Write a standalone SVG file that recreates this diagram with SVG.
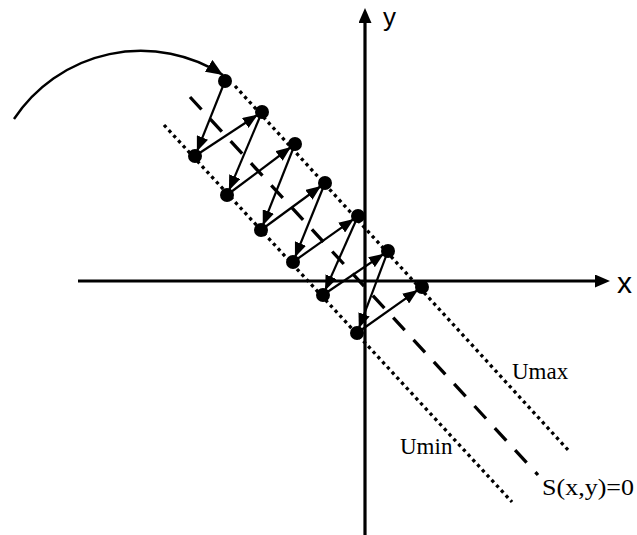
<svg xmlns="http://www.w3.org/2000/svg" width="637" height="535" viewBox="0 0 637 535">
  <style>
    .axis { stroke: #000; stroke-width: 3.2; fill: none; }
    .bound { stroke: #000; stroke-width: 3.3; stroke-dasharray: 3.3 3.7; fill: none; }
    .surf { stroke: #000; stroke-width: 3.3; stroke-dasharray: 17 13; fill: none; }
    .arr { stroke: #000; stroke-width: 2.2; fill: none; marker-end: url(#head); }
    .arc { stroke: #000; stroke-width: 2.4; fill: none; marker-end: url(#bighead); }
    .dot { fill: #000; }
    .sans { font-family: "Liberation Sans", Arial, sans-serif; fill: #000; }
    .serif { font-family: "Liberation Serif", "Times New Roman", serif; font-size: 23px; fill: #000; }
  </style>
  <defs>
    <marker id="head" markerUnits="userSpaceOnUse" markerWidth="15" markerHeight="12" refX="15" refY="6" orient="auto">
      <path d="M0,0 L15,6 L0,12 Z" fill="#000"/>
    </marker>
    <marker id="bighead" markerUnits="userSpaceOnUse" markerWidth="17" markerHeight="14" refX="17" refY="7" orient="auto">
      <path d="M0,0 L17,7 L0,14 Z" fill="#000"/>
    </marker>
    <marker id="axhead" markerUnits="userSpaceOnUse" markerWidth="15" markerHeight="13" refX="1" refY="6.5" orient="auto">
      <path d="M0,0 L15,6.5 L0,13 Z" fill="#000"/>
    </marker>
  </defs>

  <g id="axes">
    <line class="axis" x1="78" y1="281" x2="596" y2="281" marker-end="url(#axhead)"/>
    <line class="axis" x1="365" y1="535" x2="365" y2="22" marker-end="url(#axhead)"/>
  </g>

  <g id="guides">
    <line class="bound" x1="235" y1="86" x2="569" y2="451"/>
    <line class="bound" x1="164" y1="125" x2="512" y2="502"/>
    <line class="surf" x1="190" y1="97" x2="538" y2="475"/>
  </g>

  <g id="connectors">
    <path class="arc" d="M14,119 A152,152 0 0,1 223,75"/>
    <line class="arr" x1="225" y1="81" x2="196.9" y2="151.4"/>
    <line class="arr" x1="195" y1="156" x2="257.8" y2="114.7"/>
    <line class="arr" x1="262" y1="112" x2="228.9" y2="190.4"/>
    <line class="arr" x1="227" y1="195" x2="291" y2="147"/>
    <line class="arr" x1="295" y1="144" x2="262.8" y2="225.4"/>
    <line class="arr" x1="261" y1="230" x2="321" y2="186"/>
    <line class="arr" x1="325" y1="183" x2="294.9" y2="257.4"/>
    <line class="arr" x1="293" y1="262" x2="353.9" y2="218.9"/>
    <line class="arr" x1="358" y1="216" x2="325" y2="290.4"/>
    <line class="arr" x1="323" y1="295" x2="383.9" y2="253.8"/>
    <line class="arr" x1="388" y1="251" x2="358.8" y2="328.3"/>
    <line class="arr" x1="357" y1="333" x2="417.9" y2="289.9"/>
  </g>

  <g id="nodes">
    <g id="u1"><circle class="dot" cx="225" cy="81" r="7"/></g>
    <g id="u2"><circle class="dot" cx="262" cy="112" r="7"/></g>
    <g id="u3"><circle class="dot" cx="295" cy="144" r="7"/></g>
    <g id="u4"><circle class="dot" cx="325" cy="183" r="7"/></g>
    <g id="u5"><circle class="dot" cx="358" cy="216" r="7"/></g>
    <g id="u6"><circle class="dot" cx="388" cy="251" r="7"/></g>
    <g id="u7"><circle class="dot" cx="422" cy="287" r="7"/></g>
    <g id="l1"><circle class="dot" cx="195" cy="156" r="7"/></g>
    <g id="l2"><circle class="dot" cx="227" cy="195" r="7"/></g>
    <g id="l3"><circle class="dot" cx="261" cy="230" r="7"/></g>
    <g id="l4"><circle class="dot" cx="293" cy="262" r="7"/></g>
    <g id="l5"><circle class="dot" cx="323" cy="295" r="7"/></g>
    <g id="l6"><circle class="dot" cx="357" cy="333" r="7"/></g>
  </g>

  <g id="labels">
    <text class="sans" x="383" y="26" font-size="26">y</text>
    <text class="sans" x="617" y="293" font-size="30">x</text>
    <text class="serif" x="512" y="379">Umax</text>
    <text class="serif" x="400" y="454">Umin</text>
    <text class="serif" x="542" y="495" font-size="24" textLength="92" lengthAdjust="spacingAndGlyphs">S(x,y)=0</text>
  </g>
</svg>
